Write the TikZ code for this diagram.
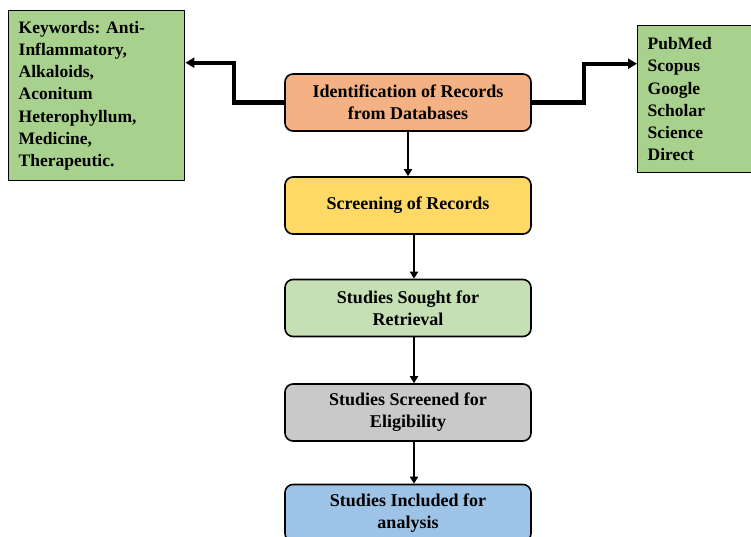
\documentclass[tikz,border=0pt]{standalone}
\usepackage{fontspec}
\setmainfont{Liberation Serif}
\usetikzlibrary{arrows.meta}
\frenchspacing
\definecolor{kwgreen}{HTML}{A9D18E}
\definecolor{idorange}{HTML}{F4B183}
\definecolor{scyellow}{HTML}{FFD966}
\definecolor{lightgreen}{HTML}{C5E0B4}
\definecolor{midgray}{HTML}{C9C9C9}
\definecolor{lightblue}{HTML}{9DC3E6}
\tikzset{
  flowbox/.style={draw=black, line width=1.6pt, rounded corners=8pt,
    minimum width=246pt, minimum height=57pt, align=center, inner sep=0pt,
    font=\fontsize{18}{22}\selectfont\bfseries},
  listbox/.style={draw=black, line width=1.4pt, fill=kwgreen, align=left,
    inner sep=10pt, anchor=north west,
    font=\fontsize{17.5}{22.3}\selectfont\bfseries},
  sidearrow/.style={line width=4.2pt, -{Triangle[length=9pt,width=10pt]}},
  downarrow/.style={line width=2.8pt, -{Triangle[length=7pt,width=8pt]}}
}
\begin{document}
\begin{tikzpicture}[x=1pt,y=-1pt]
\useasboundingbox (0,0) rectangle (751,537);

% side boxes
\node[listbox, minimum width=176pt, minimum height=170pt, text width=156pt] (kw) at (8,10)
  {Keywords: Anti-\\Inflammatory,\\Alkaloids,\\Aconitum\\Heterophyllum,\\Medicine,\\Therapeutic.};
\node[listbox, minimum width=124pt, minimum height=147pt, text width=104pt] (db) at (637,25)
  {PubMed\\Scopus\\Google\\Scholar\\Science\\Direct};

% main flow
\node[flowbox, fill=idorange]   (ident)  at (408,102.5) {Identification of Records\\from Databases};
\node[flowbox, fill=scyellow]   (screen) at (408,205.5) {Screening of Records};
\node[flowbox, fill=lightgreen] (sought) at (408,308)   {Studies Sought for\\Retrieval};
\node[flowbox, fill=midgray]    (elig)   at (408,412.5) {Studies Screened for\\Eligibility};
\node[flowbox, fill=lightblue]  (incl)   at (408,513)   {Studies Included for\\analysis};

% connectors
\draw[sidearrow] (ident.west) -- ++(-50,0) |- ([yshift=33pt]kw.east);
\draw[sidearrow] (ident.east) -- ++(52,0) |- ([yshift=35.5pt]db.west);
\draw[downarrow] (ident.south) -- (screen.north);
\draw[downarrow] ([xshift=6pt]screen.south) -- ([xshift=6pt]sought.north);
\draw[downarrow] ([xshift=6pt]sought.south) -- ([xshift=6pt]elig.north);
\draw[downarrow] ([xshift=6pt]elig.south) -- ([xshift=6pt]incl.north);
\end{tikzpicture}
\end{document}
